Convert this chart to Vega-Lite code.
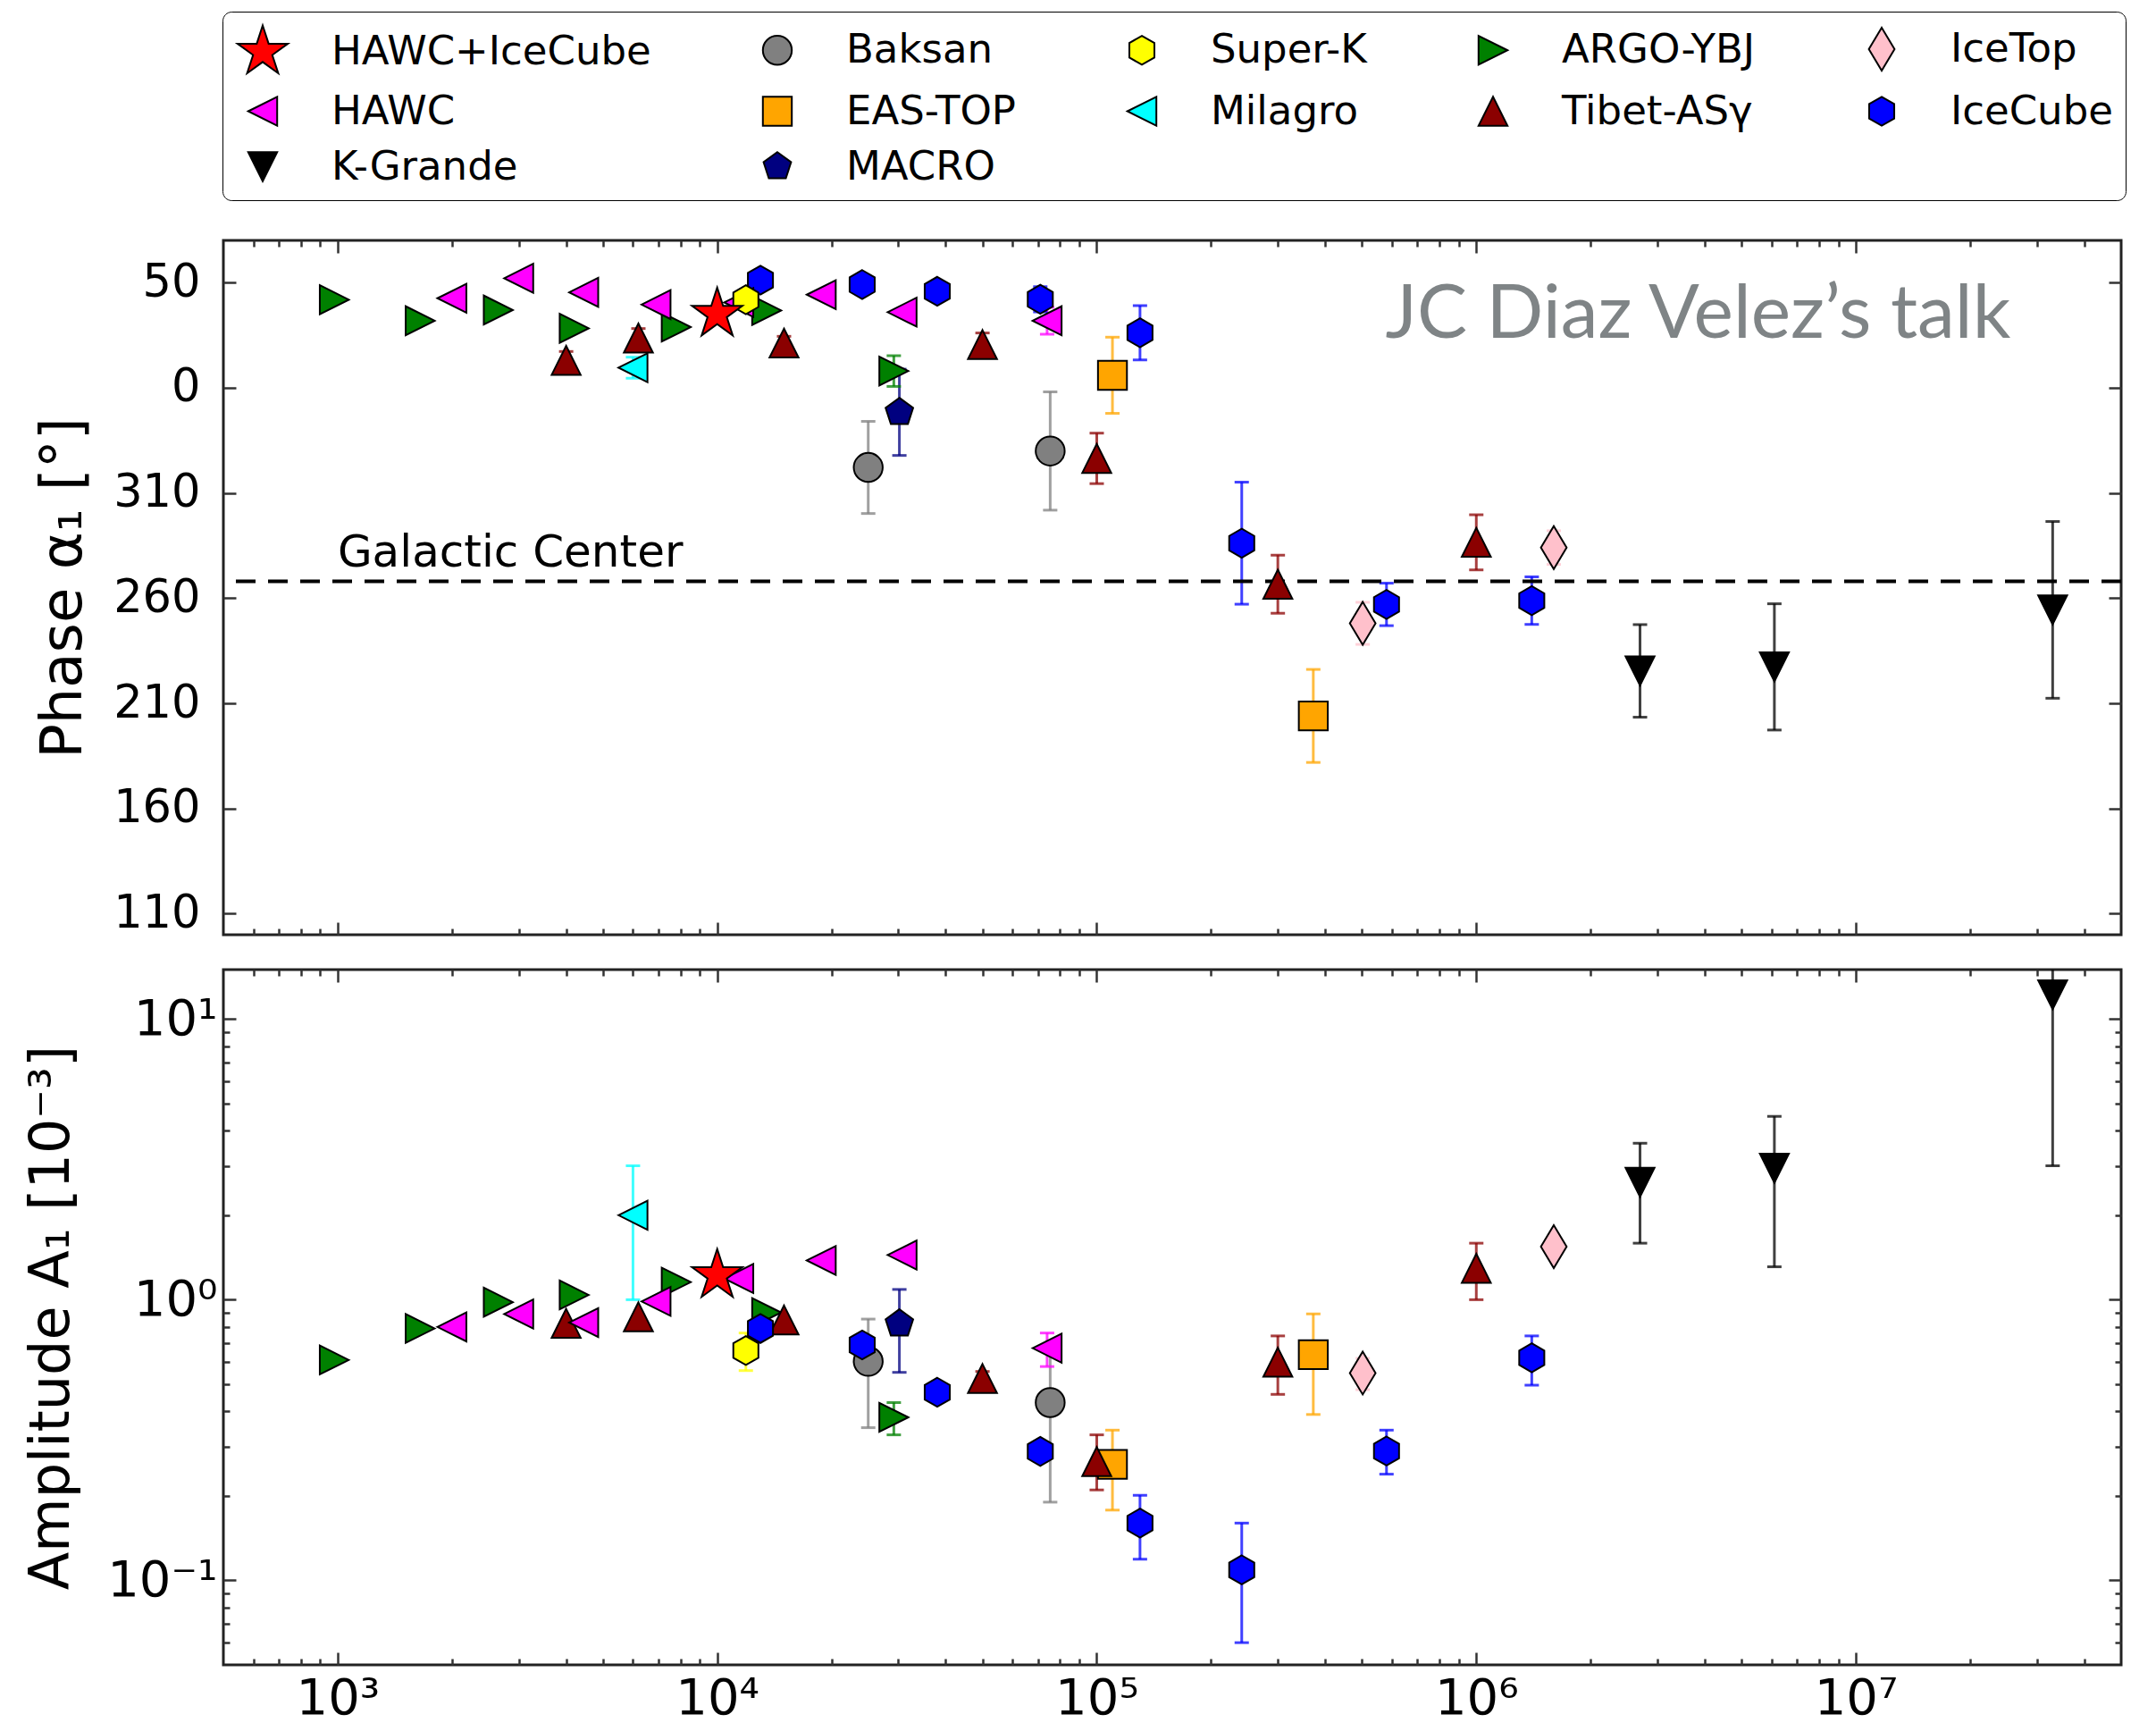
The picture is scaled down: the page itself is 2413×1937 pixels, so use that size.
{
  "$schema": "https://vega.github.io/schema/vega-lite/v6.json",
  "background": "white",
  "padding": {"left": 25, "top": 12, "right": 20, "bottom": 8},
  "datasets": {
    "points": [
      {"series": "ARGO-YBJ", "E": 980, "phase": 41.8, "amp": 0.61},
      {"series": "ARGO-YBJ", "E": 1650, "phase": 31.8, "amp": 0.79},
      {"series": "ARGO-YBJ", "E": 2650, "phase": 36.9, "amp": 0.98},
      {"series": "ARGO-YBJ", "E": 4200, "phase": 28.2, "amp": 1.04},
      {"series": "ARGO-YBJ", "E": 7800, "phase": 28.8, "amp": 1.155},
      {"series": "ARGO-YBJ", "E": 13500, "phase": 36.7, "amp": 0.9},
      {"series": "ARGO-YBJ", "E": 29200, "phase": 7.9, "phaseLo": 0.6, "phaseHi": 15.2, "amp": 0.381, "ampLo": 0.33, "ampHi": 0.43},
      {"series": "Baksan", "E": 25000, "phase": -37.9, "phaseLo": -59.8, "phaseHi": -16.0, "amp": 0.603, "ampLo": 0.35, "ampHi": 0.853},
      {"series": "Baksan", "E": 75400, "phase": -30.1, "phaseLo": -58.2, "phaseHi": -2.0, "amp": 0.43, "ampLo": 0.19, "ampHi": 0.67},
      {"series": "EAS-TOP", "E": 110000, "phase": 5.9, "phaseLo": -12.2, "phaseHi": 24.0, "amp": 0.259, "ampLo": 0.178, "ampHi": 0.343},
      {"series": "EAS-TOP", "E": 372000, "phase": -156, "phaseLo": -178.1, "phaseHi": -133.9, "amp": 0.637, "ampLo": 0.39, "ampHi": 0.89},
      {"series": "Tibet-ASγ", "E": 4000, "phase": 13.0, "phaseLo": 8.8, "phaseHi": 17.2, "amp": 0.824},
      {"series": "Tibet-ASγ", "E": 6200, "phase": 23.6, "phaseLo": 19.1, "phaseHi": 28.1, "amp": 0.869},
      {"series": "Tibet-ASγ", "E": 15000, "phase": 21.2, "phaseLo": 18.0, "phaseHi": 24.4, "amp": 0.847},
      {"series": "Tibet-ASγ", "E": 50000, "phase": 20.5, "phaseLo": 15.0, "phaseHi": 26.0, "amp": 0.524, "ampLo": 0.495, "ampHi": 0.555},
      {"series": "Tibet-ASγ", "E": 100000, "phase": -33.6, "phaseLo": -45.6, "phaseHi": -21.6, "amp": 0.265, "ampLo": 0.21, "ampHi": 0.33},
      {"series": "Tibet-ASγ", "E": 300000, "phase": -93.4, "phaseLo": -107.2, "phaseHi": -79.6, "amp": 0.599, "ampLo": 0.46, "ampHi": 0.743},
      {"series": "Tibet-ASγ", "E": 1000000, "phase": -73.5, "phaseLo": -86.6, "phaseHi": -60.4, "amp": 1.294, "ampLo": 1.0, "ampHi": 1.59},
      {"series": "MACRO", "E": 30200, "phase": -11.7, "phaseLo": -32.2, "phaseHi": 8.8, "amp": 0.821, "ampLo": 0.551, "ampHi": 1.088},
      {"series": "Milagro", "E": 6000, "phase": 9.5, "phaseLo": 4.5, "phaseHi": 14.5, "amp": 2.0, "ampLo": 1.0, "ampHi": 3.0},
      {"series": "IceTop", "E": 502000, "phase": -112, "phaseLo": -122, "phaseHi": -102, "amp": 0.548, "ampLo": 0.478, "ampHi": 0.618},
      {"series": "IceTop", "E": 1600000, "phase": -76, "phaseLo": -84, "phaseHi": -68, "amp": 1.545, "ampLo": 1.45, "ampHi": 1.64},
      {"series": "K-Grande", "E": 2700000, "phase": -134.6, "phaseLo": -156.6, "phaseHi": -112.6, "amp": 2.62, "ampLo": 1.59, "ampHi": 3.61},
      {"series": "K-Grande", "E": 6100000, "phase": -132.7, "phaseLo": -162.7, "phaseHi": -102.7, "amp": 2.94, "ampLo": 1.31, "ampHi": 4.5},
      {"series": "K-Grande", "E": 33000000, "phase": -105.6, "phaseLo": -147.6, "phaseHi": -63.6, "amp": 12.2, "ampLo": 3.0, "ampHi": 21.4},
      {"series": "IceCube", "E": 13000, "phase": 51.1, "phaseLo": 48.0, "phaseHi": 54.2, "amp": 0.79},
      {"series": "IceCube", "E": 24100, "phase": 49.0, "amp": 0.69},
      {"series": "IceCube", "E": 38000, "phase": 45.8, "amp": 0.468},
      {"series": "IceCube", "E": 71000, "phase": 42.0, "phaseLo": 36.0, "phaseHi": 48.0, "amp": 0.288, "ampLo": 0.265, "ampHi": 0.31},
      {"series": "IceCube", "E": 130000, "phase": 26.1, "phaseLo": 13.2, "phaseHi": 39.0, "amp": 0.16, "ampLo": 0.119, "ampHi": 0.201},
      {"series": "IceCube", "E": 241000, "phase": -73.9, "phaseLo": -102.9, "phaseHi": -44.9, "amp": 0.109, "ampLo": 0.06, "ampHi": 0.16},
      {"series": "IceCube", "E": 580000, "phase": -103, "phaseLo": -113.1, "phaseHi": -92.9, "amp": 0.289, "ampLo": 0.239, "ampHi": 0.343},
      {"series": "IceCube", "E": 1400000, "phase": -101.2, "phaseLo": -112.5, "phaseHi": -89.9, "amp": 0.621, "ampLo": 0.496, "ampHi": 0.743},
      {"series": "HAWC", "E": 2000, "phase": 42.5, "amp": 0.8},
      {"series": "HAWC", "E": 3000, "phase": 52.0, "amp": 0.889},
      {"series": "HAWC", "E": 4450, "phase": 45.3, "amp": 0.829},
      {"series": "HAWC", "E": 6900, "phase": 39.5, "amp": 0.986},
      {"series": "HAWC", "E": 11400, "phase": 40.5, "amp": 1.19},
      {"series": "HAWC", "E": 18800, "phase": 44.2, "amp": 1.38},
      {"series": "HAWC", "E": 30700, "phase": 35.9, "amp": 1.443},
      {"series": "HAWC", "E": 74000, "phase": 31.8, "phaseLo": 25.4, "phaseHi": 38.2, "amp": 0.672, "ampLo": 0.578, "ampHi": 0.761},
      {"series": "Super-K", "E": 11900, "phase": 41.8, "phaseLo": 38.5, "phaseHi": 45.1, "amp": 0.659, "ampLo": 0.559, "ampHi": 0.761},
      {"series": "HAWC+IceCube", "E": 10000, "phase": 35.0, "amp": 1.22}
    ]
  },
  "spacing": 33,
  "vconcat": [
    {
      "width": 2124,
      "height": 777,
      "data": {"name": "points"},
      "resolve": {"axis": {"x": "independent", "y": "independent"}},
      "layer": [
        {
          "mark": {"type": "rule", "strokeWidth": 3, "opacity": 0.75, "clip": true},
          "encoding": {
            "x": {"field": "E", "type": "quantitative",
                  "scale": {"type": "log", "domain": [500, 50000000], "nice": false},
                  "axis": {"orient": "top", "labels": false, "title": null,
                           "values": [600,700,800,900,1000,2000,3000,4000,5000,6000,7000,8000,9000,10000,20000,30000,40000,50000,60000,70000,80000,90000,100000,200000,300000,400000,500000,600000,700000,800000,900000,1000000,2000000,3000000,4000000,5000000,6000000,7000000,8000000,9000000,10000000,20000000,30000000,40000000],
                           "tickSize": {"condition": {"test": "abs(log(datum.value)/LN10 - round(log(datum.value)/LN10)) < 0.001", "value": -14}, "value": -7}}},
            "y": {"field": "phaseLo", "type": "quantitative",
                  "scale": {"domain": [-260, 70], "nice": false, "zero": false},
                  "axis": {"orient": "right", "labels": false, "title": null, "values": [-250, -200, -150, -100, -50, 0, 50], "tickSize": -14}},
            "y2": {"field": "phaseHi"},
            "stroke": {"field": "series", "type": "nominal", "legend": null,
                       "scale": {"domain": ["ARGO-YBJ","Baksan","EAS-TOP","HAWC","HAWC+IceCube","IceCube","IceTop","K-Grande","MACRO","Milagro","Super-K","Tibet-ASγ"],
                                 "range": ["#008000","#808080","#ffa500","#ff00ff","#ff0000","#0000ff","#ffc0cb","#000000","#000080","#00ffff","#ffff00","#8b0000"]}}
          }
        },
        {
          "mark": {"type": "tick", "orient": "horizontal", "size": 16, "thickness": 3, "opacity": 0.75, "clip": true},
          "encoding": {
            "x": {"field": "E", "type": "quantitative", "scale": {"type": "log", "domain": [500, 50000000], "nice": false}, "axis": null},
            "y": {"field": "phaseLo", "type": "quantitative", "scale": {"domain": [-260, 70], "nice": false, "zero": false}, "axis": null},
            "fill": {"field": "series", "type": "nominal", "legend": null,
                     "scale": {"domain": ["ARGO-YBJ","Baksan","EAS-TOP","HAWC","HAWC+IceCube","IceCube","IceTop","K-Grande","MACRO","Milagro","Super-K","Tibet-ASγ"],
                               "range": ["#008000","#808080","#ffa500","#ff00ff","#ff0000","#0000ff","#ffc0cb","#000000","#000080","#00ffff","#ffff00","#8b0000"]}}
          }
        },
        {
          "mark": {"type": "tick", "orient": "horizontal", "size": 16, "thickness": 3, "opacity": 0.75, "clip": true},
          "encoding": {
            "x": {"field": "E", "type": "quantitative", "scale": {"type": "log", "domain": [500, 50000000], "nice": false}, "axis": null},
            "y": {"field": "phaseHi", "type": "quantitative", "scale": {"domain": [-260, 70], "nice": false, "zero": false}, "axis": null},
            "fill": {"field": "series", "type": "nominal", "legend": null,
                     "scale": {"domain": ["ARGO-YBJ","Baksan","EAS-TOP","HAWC","HAWC+IceCube","IceCube","IceTop","K-Grande","MACRO","Milagro","Super-K","Tibet-ASγ"],
                               "range": ["#008000","#808080","#ffa500","#ff00ff","#ff0000","#0000ff","#ffc0cb","#000000","#000080","#00ffff","#ffff00","#8b0000"]}}
          }
        },
        {
          "data": {"values": [{"gc": -92, "label": "Galactic Center"}]},
          "mark": {"type": "rule", "strokeDash": [22, 14], "strokeWidth": 4, "color": "black"},
          "encoding": {
            "y": {"field": "gc", "type": "quantitative", "scale": {"domain": [-260, 70], "nice": false, "zero": false}, "axis": null}
          }
        },
        {
          "data": {"values": [{"gc": -92, "label": "Galactic Center"}]},
          "mark": {"type": "text", "align": "left", "baseline": "alphabetic", "font": "DejaVu Sans", "fontSize": 50, "color": "black"},
          "encoding": {
            "x": {"datum": 1000, "type": "quantitative", "scale": {"type": "log", "domain": [500, 50000000], "nice": false}, "axis": null},
            "y": {"datum": -85, "type": "quantitative", "scale": {"domain": [-260, 70], "nice": false, "zero": false}, "axis": null},
            "text": {"field": "label"}
          }
        },
        {
          "data": {"values": [{"note": "JC Diaz Velez’s talk"}]},
          "mark": {"type": "text", "align": "left", "baseline": "alphabetic", "font": "Lato", "fontSize": 84, "color": "#7f8486"},
          "encoding": {
            "x": {"datum": 576000, "type": "quantitative", "scale": {"type": "log", "domain": [500, 50000000], "nice": false}, "axis": null},
            "y": {"datum": 23.5, "type": "quantitative", "scale": {"domain": [-260, 70], "nice": false, "zero": false}, "axis": null},
            "text": {"field": "note"}
          }
        },
        {
          "mark": {"type": "point", "filled": true, "opacity": 1, "stroke": "black", "strokeWidth": 2},
          "encoding": {
            "x": {"field": "E", "type": "quantitative",
                  "scale": {"type": "log", "domain": [500, 50000000], "nice": false},
                  "axis": {"orient": "bottom", "labels": false, "title": null,
                           "values": [600,700,800,900,1000,2000,3000,4000,5000,6000,7000,8000,9000,10000,20000,30000,40000,50000,60000,70000,80000,90000,100000,200000,300000,400000,500000,600000,700000,800000,900000,1000000,2000000,3000000,4000000,5000000,6000000,7000000,8000000,9000000,10000000,20000000,30000000,40000000],
                           "tickSize": {"condition": {"test": "abs(log(datum.value)/LN10 - round(log(datum.value)/LN10)) < 0.001", "value": -14}, "value": -7}}},
            "y": {"field": "phase", "type": "quantitative",
                  "scale": {"domain": [-260, 70], "nice": false, "zero": false},
                  "axis": {"orient": "left", "title": "Phase α₁ [°]", "titleFontSize": 64, "values": [-250, -200, -150, -100, -50, 0, 50],
                           "labelExpr": "(datum.value + 360) % 360", "tickSize": -14, "labelPadding": 40, "titlePadding": 23}},
            "color": {"field": "series", "type": "nominal",
                      "scale": {"domain": ["HAWC+IceCube","Baksan","Super-K","ARGO-YBJ","IceTop","HAWC","EAS-TOP","Milagro","Tibet-ASγ","IceCube","K-Grande","MACRO"],
                                "range": ["#ff0000","#808080","#ffff00","#008000","#ffc0cb","#ff00ff","#ffa500","#00ffff","#8b0000","#0000ff","#000000","#000080"]},
                      "legend": {"title": null, "orient": "none", "legendX": -1, "legendY": -256, "direction": "horizontal", "columns": 5,
                                 "labelFont": "DejaVu Sans", "labelFontSize": 45, "labelColor": "black", "labelLimit": 800, "labelOffset": 46,
                                 "symbolStrokeWidth": 2, "symbolOpacity": 1,
                                 "strokeColor": "black", "fillColor": "white", "cornerRadius": 10,
                                 "padding": 14, "columnPadding": 110, "rowPadding": 16}},
            "shape": {"field": "series", "type": "nominal",
                      "scale": {"domain": ["HAWC+IceCube","Baksan","Super-K","ARGO-YBJ","IceTop","HAWC","EAS-TOP","Milagro","Tibet-ASγ","IceCube","K-Grande","MACRO"],
                                "range": ["M0,-1L0.2245,-0.309L0.951,-0.309L0.3633,0.118L0.588,0.809L0,0.382L-0.588,0.809L-0.3633,0.118L-0.951,-0.309L-0.2245,-0.309Z",
                                          "circle",
                                          "M0,-1L0.866,-0.5L0.866,0.5L0,1L-0.866,0.5L-0.866,-0.5Z",
                                          "M1,0L-1,-1L-1,1Z",
                                          "M0,-1L0.6,0L0,1L-0.6,0Z",
                                          "M-1,0L1,-1L1,1Z",
                                          "M-1,-1L1,-1L1,1L-1,1Z",
                                          "M-1,0L1,-1L1,1Z",
                                          "M0,-1L1,1L-1,1Z",
                                          "M0,-1L0.866,-0.5L0.866,0.5L0,1L-0.866,0.5L-0.866,-0.5Z",
                                          "M0,1L1,-1L-1,-1Z",
                                          "M0,-1L0.951,-0.309L0.588,0.809L-0.588,0.809L-0.951,-0.309Z"]},
                      "legend": {"title": null, "orient": "none", "legendX": -1, "legendY": -256, "direction": "horizontal", "columns": 5,
                                 "labelFont": "DejaVu Sans", "labelFontSize": 45, "labelColor": "black", "labelLimit": 800, "labelOffset": 46,
                                 "symbolStrokeWidth": 2, "symbolOpacity": 1,
                                 "strokeColor": "black", "fillColor": "white", "cornerRadius": 10,
                                 "padding": 14, "columnPadding": 110, "rowPadding": 16}},
            "size": {"field": "series", "type": "nominal",
                     "scale": {"type": "ordinal", "domain": ["HAWC+IceCube","Baksan","Super-K","ARGO-YBJ","IceTop","HAWC","EAS-TOP","Milagro","Tibet-ASγ","IceCube","K-Grande","MACRO"],
                               "range": [3500, 1050, 1050, 1050, 2300, 1050, 1050, 1050, 1050, 1050, 1050, 1050]},
                     "legend": {"title": null, "orient": "none", "legendX": -1, "legendY": -256, "direction": "horizontal", "columns": 5,
                                "labelFont": "DejaVu Sans", "labelFontSize": 45, "labelColor": "black", "labelLimit": 800, "labelOffset": 46,
                                "symbolStrokeWidth": 2, "symbolOpacity": 1,
                                "strokeColor": "black", "fillColor": "white", "cornerRadius": 10,
                                "padding": 14, "columnPadding": 110, "rowPadding": 16}}
          }
        }
      ]
    },
    {
      "width": 2124,
      "height": 778,
      "data": {"name": "points"},
      "resolve": {"axis": {"x": "independent", "y": "independent"}},
      "layer": [
        {
          "mark": {"type": "rule", "strokeWidth": 3, "opacity": 0.75, "clip": true},
          "encoding": {
            "x": {"field": "E", "type": "quantitative",
                  "scale": {"type": "log", "domain": [500, 50000000], "nice": false},
                  "axis": {"orient": "top", "labels": false, "title": null,
                           "values": [600,700,800,900,1000,2000,3000,4000,5000,6000,7000,8000,9000,10000,20000,30000,40000,50000,60000,70000,80000,90000,100000,200000,300000,400000,500000,600000,700000,800000,900000,1000000,2000000,3000000,4000000,5000000,6000000,7000000,8000000,9000000,10000000,20000000,30000000,40000000],
                           "tickSize": {"condition": {"test": "abs(log(datum.value)/LN10 - round(log(datum.value)/LN10)) < 0.001", "value": -14}, "value": -7}}},
            "y": {"field": "ampLo", "type": "quantitative",
                  "scale": {"type": "log", "domain": [0.05, 15], "nice": false},
                  "axis": {"orient": "right", "labels": false, "title": null,
                           "values": [0.06,0.07,0.08,0.09,0.1,0.2,0.3,0.4,0.5,0.6,0.7,0.8,0.9,1,2,3,4,5,6,7,8,9,10],
                           "tickSize": {"condition": {"test": "abs(log(datum.value)/LN10 - round(log(datum.value)/LN10)) < 0.001", "value": -14}, "value": -7}}},
            "y2": {"field": "ampHi"},
            "stroke": {"field": "series", "type": "nominal", "legend": null,
                       "scale": {"domain": ["ARGO-YBJ","Baksan","EAS-TOP","HAWC","HAWC+IceCube","IceCube","IceTop","K-Grande","MACRO","Milagro","Super-K","Tibet-ASγ"],
                                 "range": ["#008000","#808080","#ffa500","#ff00ff","#ff0000","#0000ff","#ffc0cb","#000000","#000080","#00ffff","#ffff00","#8b0000"]}}
          }
        },
        {
          "mark": {"type": "tick", "orient": "horizontal", "size": 16, "thickness": 3, "opacity": 0.75, "clip": true},
          "encoding": {
            "x": {"field": "E", "type": "quantitative", "scale": {"type": "log", "domain": [500, 50000000], "nice": false}, "axis": null},
            "y": {"field": "ampLo", "type": "quantitative", "scale": {"type": "log", "domain": [0.05, 15], "nice": false}, "axis": null},
            "fill": {"field": "series", "type": "nominal", "legend": null,
                     "scale": {"domain": ["ARGO-YBJ","Baksan","EAS-TOP","HAWC","HAWC+IceCube","IceCube","IceTop","K-Grande","MACRO","Milagro","Super-K","Tibet-ASγ"],
                               "range": ["#008000","#808080","#ffa500","#ff00ff","#ff0000","#0000ff","#ffc0cb","#000000","#000080","#00ffff","#ffff00","#8b0000"]}}
          }
        },
        {
          "mark": {"type": "tick", "orient": "horizontal", "size": 16, "thickness": 3, "opacity": 0.75, "clip": true},
          "encoding": {
            "x": {"field": "E", "type": "quantitative", "scale": {"type": "log", "domain": [500, 50000000], "nice": false}, "axis": null},
            "y": {"field": "ampHi", "type": "quantitative", "scale": {"type": "log", "domain": [0.05, 15], "nice": false}, "axis": null},
            "fill": {"field": "series", "type": "nominal", "legend": null,
                     "scale": {"domain": ["ARGO-YBJ","Baksan","EAS-TOP","HAWC","HAWC+IceCube","IceCube","IceTop","K-Grande","MACRO","Milagro","Super-K","Tibet-ASγ"],
                               "range": ["#008000","#808080","#ffa500","#ff00ff","#ff0000","#0000ff","#ffc0cb","#000000","#000080","#00ffff","#ffff00","#8b0000"]}}
          }
        },
        {
          "mark": {"type": "point", "filled": true, "opacity": 1, "stroke": "black", "strokeWidth": 2},
          "encoding": {
            "x": {"field": "E", "type": "quantitative",
                  "scale": {"type": "log", "domain": [500, 50000000], "nice": false},
                  "axis": {"orient": "bottom", "title": null, "labelFontSize": 56,
                           "values": [600,700,800,900,1000,2000,3000,4000,5000,6000,7000,8000,9000,10000,20000,30000,40000,50000,60000,70000,80000,90000,100000,200000,300000,400000,500000,600000,700000,800000,900000,1000000,2000000,3000000,4000000,5000000,6000000,7000000,8000000,9000000,10000000,20000000,30000000,40000000],
                           "labelExpr": "abs(log(datum.value)/LN10 - round(log(datum.value)/LN10)) < 0.001 ? '10' + ['⁰','¹','²','³','⁴','⁵','⁶','⁷','⁸'][round(log(datum.value)/LN10)] : ''",
                           "tickSize": {"condition": {"test": "abs(log(datum.value)/LN10 - round(log(datum.value)/LN10)) < 0.001", "value": -14}, "value": -7},
                           "labelPadding": 24}},
            "y": {"field": "amp", "type": "quantitative",
                  "scale": {"type": "log", "domain": [0.05, 15], "nice": false},
                  "axis": {"orient": "left", "title": "Amplitude A₁ [10⁻³]", "labelFontSize": 56,
                           "values": [0.06,0.07,0.08,0.09,0.1,0.2,0.3,0.4,0.5,0.6,0.7,0.8,0.9,1,2,3,4,5,6,7,8,9,10],
                           "labelExpr": "abs(log(datum.value)/LN10 - round(log(datum.value)/LN10)) < 0.001 ? (round(log(datum.value)/LN10) < -0.5 ? '10⁻¹' : (round(log(datum.value)/LN10) < 0.5 ? '10⁰' : '10¹')) : ''",
                           "tickSize": {"condition": {"test": "abs(log(datum.value)/LN10 - round(log(datum.value)/LN10)) < 0.001", "value": -14}, "value": -7},
                           "labelPadding": 21, "titlePadding": 30}},
            "color": {"field": "series", "type": "nominal",
                      "scale": {"domain": ["HAWC+IceCube","Baksan","Super-K","ARGO-YBJ","IceTop","HAWC","EAS-TOP","Milagro","Tibet-ASγ","IceCube","K-Grande","MACRO"],
                                "range": ["#ff0000","#808080","#ffff00","#008000","#ffc0cb","#ff00ff","#ffa500","#00ffff","#8b0000","#0000ff","#000000","#000080"]},
                      "legend": {"title": null, "orient": "none", "legendX": -1, "legendY": -256, "direction": "horizontal", "columns": 5,
                                 "labelFont": "DejaVu Sans", "labelFontSize": 45, "labelColor": "black", "labelLimit": 800, "labelOffset": 46,
                                 "symbolStrokeWidth": 2, "symbolOpacity": 1,
                                 "strokeColor": "black", "fillColor": "white", "cornerRadius": 10,
                                 "padding": 14, "columnPadding": 110, "rowPadding": 16}},
            "shape": {"field": "series", "type": "nominal",
                      "scale": {"domain": ["HAWC+IceCube","Baksan","Super-K","ARGO-YBJ","IceTop","HAWC","EAS-TOP","Milagro","Tibet-ASγ","IceCube","K-Grande","MACRO"],
                                "range": ["M0,-1L0.2245,-0.309L0.951,-0.309L0.3633,0.118L0.588,0.809L0,0.382L-0.588,0.809L-0.3633,0.118L-0.951,-0.309L-0.2245,-0.309Z",
                                          "circle",
                                          "M0,-1L0.866,-0.5L0.866,0.5L0,1L-0.866,0.5L-0.866,-0.5Z",
                                          "M1,0L-1,-1L-1,1Z",
                                          "M0,-1L0.6,0L0,1L-0.6,0Z",
                                          "M-1,0L1,-1L1,1Z",
                                          "M-1,-1L1,-1L1,1L-1,1Z",
                                          "M-1,0L1,-1L1,1Z",
                                          "M0,-1L1,1L-1,1Z",
                                          "M0,-1L0.866,-0.5L0.866,0.5L0,1L-0.866,0.5L-0.866,-0.5Z",
                                          "M0,1L1,-1L-1,-1Z",
                                          "M0,-1L0.951,-0.309L0.588,0.809L-0.588,0.809L-0.951,-0.309Z"]},
                      "legend": {"title": null, "orient": "none", "legendX": -1, "legendY": -256, "direction": "horizontal", "columns": 5,
                                 "labelFont": "DejaVu Sans", "labelFontSize": 45, "labelColor": "black", "labelLimit": 800, "labelOffset": 46,
                                 "symbolStrokeWidth": 2, "symbolOpacity": 1,
                                 "strokeColor": "black", "fillColor": "white", "cornerRadius": 10,
                                 "padding": 14, "columnPadding": 110, "rowPadding": 16}},
            "size": {"field": "series", "type": "nominal",
                     "scale": {"type": "ordinal", "domain": ["HAWC+IceCube","Baksan","Super-K","ARGO-YBJ","IceTop","HAWC","EAS-TOP","Milagro","Tibet-ASγ","IceCube","K-Grande","MACRO"],
                               "range": [3500, 1050, 1050, 1050, 2300, 1050, 1050, 1050, 1050, 1050, 1050, 1050]},
                     "legend": {"title": null, "orient": "none", "legendX": -1, "legendY": -256, "direction": "horizontal", "columns": 5,
                                "labelFont": "DejaVu Sans", "labelFontSize": 45, "labelColor": "black", "labelLimit": 800, "labelOffset": 46,
                                "symbolStrokeWidth": 2, "symbolOpacity": 1,
                                "strokeColor": "black", "fillColor": "white", "cornerRadius": 10,
                                "padding": 14, "columnPadding": 110, "rowPadding": 16}}
          }
        }
      ]
    }
  ],
  "config": {
    "font": "DejaVu Sans",
    "view": {"stroke": "#222222", "strokeWidth": 3},
    "axis": {
      "labelFont": "DejaVu Sans", "labelFontSize": 51, "labelColor": "black",
      "titleFont": "DejaVu Sans", "titleFontSize": 62, "titleFontWeight": "normal", "titleColor": "black",
      "tickColor": "#333333", "tickWidth": 2.5, "domain": false, "grid": false,
      "labelOverlap": false, "labelFlush": false, "labelBound": false
    }
  }
}
